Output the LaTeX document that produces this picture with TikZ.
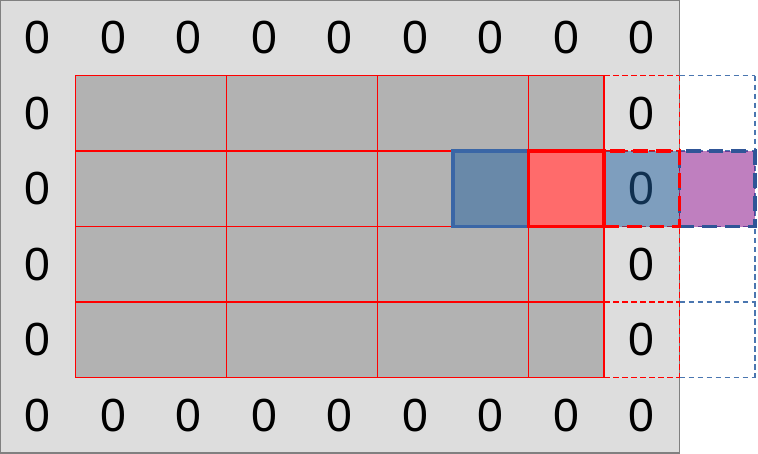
\documentclass[tikz,border=0pt]{standalone}
\usepackage{fontspec}
\setmainfont{Liberation Sans}
\usetikzlibrary{positioning}
\definecolor{bggray}{HTML}{DDDDDD}
\definecolor{cellgray}{HTML}{B2B2B2}
\definecolor{framegray}{HTML}{808080}
\definecolor{gridred}{HTML}{FF0000}
\definecolor{hotred}{HTML}{FF6B6B}
\definecolor{kernblue}{HTML}{2161A1}
\definecolor{edgeblue}{HTML}{3A66A6}
\definecolor{dashblue}{HTML}{4A76B0}
\definecolor{deepblue}{HTML}{2F5597}
\definecolor{padpurple}{HTML}{800080}

\begin{document}
\begin{tikzpicture}[x=1cm, y=-1cm,
  zero/.style={font=\fontsize{17.5}{17.5}\selectfont, inner sep=0pt},
  cell/.style={rectangle, minimum width=1cm, minimum height=1cm,
               inner sep=0pt, outer sep=0pt, anchor=north west},
  blk/.style={cell, draw=gridred, fill=cellgray, line width=0.5pt},
  padred/.style={draw=gridred, dash pattern=on 2.1pt off 1.3pt, line width=0.7pt},
  padblue/.style={draw=dashblue, dash pattern=on 2.1pt off 1.3pt, line width=0.7pt},
  thick box/.style={cell, line width=1.2pt}
]
\useasboundingbox (0,0) rectangle (10.04,6.013);

% padded input
\node[cell, fill=bggray, draw=framegray, line width=0.5pt,
      minimum width=9cm, minimum height=6cm] (bg) at (0,0) {};

% dashed extension columns
\foreach \r in {1,...,5} {
  \coordinate (ea-\r) at (8,\r);
  \coordinate (eb-\r) at (9,\r);
  \coordinate (ec-\r) at (10,\r);
  \draw[padblue] (eb-\r) -- (ec-\r);
  \draw[padred] (ea-\r) -- (eb-\r);
}
\draw[padblue, line width=0.85pt] (ec-1) -- (ec-5);
\draw[padred] (eb-1) -- (eb-5);

% original feature map
\foreach \c/\w in {1/2,3/2,5/2,7/1}
  \foreach \r in {1,...,4}
    \node[blk, minimum width=\w cm] (b-\c-\r) at (\c,\r) {};

% zero padding
\foreach \c in {0,...,8} {
  \node[zero] (z-\c-0) at (\c+0.5,0.5) {0};
  \node[zero] (z-\c-5) at (\c+0.5,5.5) {0};
}
\foreach \r in {1,...,4} {
  \node[zero] (z-0-\r) at (0.5,\r+0.5) {0};
  \node[zero] (z-8-\r) at (8.5,\r+0.5) {0};
}

% sliding window
\node[thick box, fill=kernblue, fill opacity=0.5, draw=edgeblue,
      draw opacity=1] (win) at (6,2) {};
\node[thick box, fill=padpurple, fill opacity=0.5, draw=deepblue, draw opacity=1,
      dash pattern=on 5.6pt off 3pt] (over) at (9,2) {};
\node[thick box, fill=kernblue, fill opacity=0.5, draw=gridred, draw opacity=1,
      dash pattern=on 5.6pt off 3pt] (pad) at (8,2) {};
\node[thick box, fill=hotred, draw=gridred] (cur) at (7,2) {};

\end{tikzpicture}
\end{document}
